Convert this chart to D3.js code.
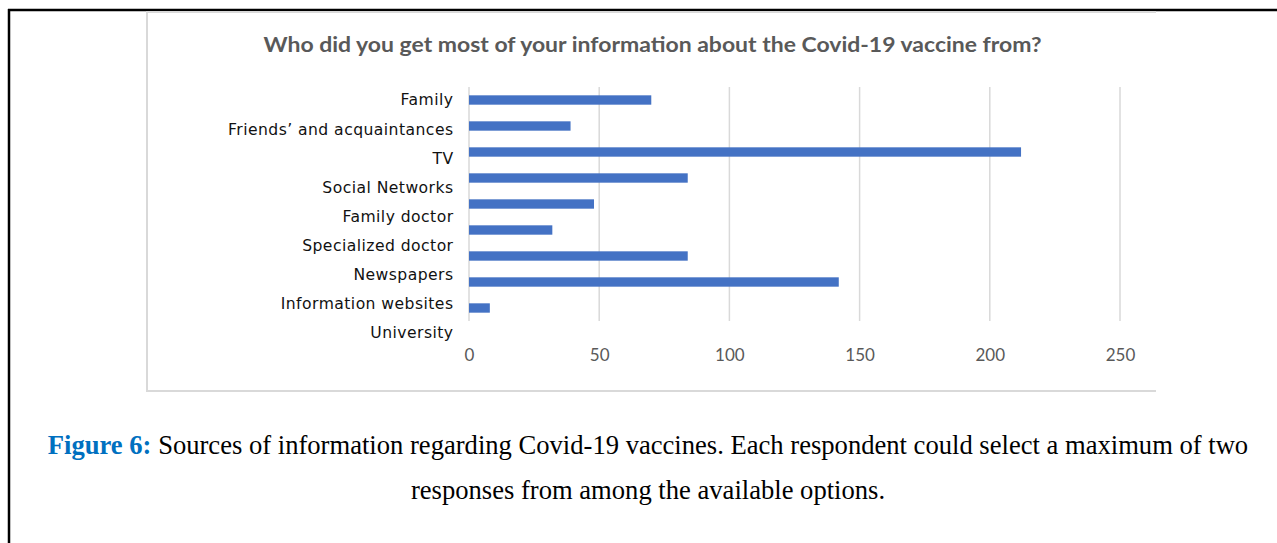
<!DOCTYPE html>
<html>
<head>
<meta charset="utf-8">
<script src="https://cdn.jsdelivr.net/npm/d3@7"></script>
<style>
  html, body { margin: 0; padding: 0; background: #fff; }
  svg { display: block; }
</style>
</head>
<body>
<svg id="fig" width="1277" height="543"></svg>
<script>
// Survey answers: where respondents got most of their vaccine information
const categories = [
  "Family",
  "Friends’ and acquaintances",
  "TV",
  "Social Networks",
  "Family doctor",
  "Specialized doctor",
  "Newspapers",
  "Information websites",
  "University"
];
const counts = [70, 39, 212, 84, 48, 32, 84, 142, 8];
const xTicks = [0, 50, 100, 150, 200, 250];

const chartTitle = "Who did you get most of your information about the Covid-19 vaccine from?";
const captionLead = "Figure 6:";
const captionLine1 = " Sources of information regarding Covid-19 vaccines. Each respondent could select a maximum of two";
const captionLine2 = "responses from among the available options.";

const svg = d3.select("#fig");

// page frame
svg.append("line").attr("x1", 9).attr("x2", 9).attr("y1", 9).attr("y2", 543)
  .attr("stroke", "#000").attr("stroke-width", 2.5);
svg.append("line").attr("x1", 8).attr("x2", 1277).attr("y1", 10).attr("y2", 10)
  .attr("stroke", "#000").attr("stroke-width", 2.5);

// chart area box (left, top, bottom edges)
const box = { left: 147, right: 1156, top: 12, bottom: 391 };
svg.append("path")
  .attr("d", `M${box.right},${box.top}H${box.left}V${box.bottom}H${box.right}`)
  .attr("fill", "none").attr("stroke", "#d9d9d9").attr("stroke-width", 2);

// title
svg.append("text")
  .attr("x", (box.left + box.right) / 2 + 1).attr("y", 52)
  .attr("text-anchor", "middle")
  .attr("font-family", "Lato, 'Open Sans', sans-serif")
  .attr("font-weight", "bold").attr("font-size", 21)
  .attr("textLength", 778).attr("lengthAdjust", "spacingAndGlyphs")
  .attr("fill", "#595959")
  .text(chartTitle);

// scales
const plot = { left: 469, right: 1120, top: 87, bottom: 321 };
const x = d3.scaleLinear().domain([0, 250]).range([plot.left, plot.right]);
const yBar = d3.scaleBand().domain(categories).range([plot.top, plot.bottom]).paddingInner(0.64).paddingOuter(0.32);
const yLabel = d3.scalePoint().domain(categories).range([100, 333]);

// vertical gridlines
svg.append("g").selectAll("line").data(xTicks).join("line")
  .attr("x1", d => x(d)).attr("x2", d => x(d))
  .attr("y1", plot.top).attr("y2", plot.bottom)
  .attr("stroke", "#d9d9d9").attr("stroke-width", 1.5);

// bars
svg.append("g").selectAll("rect").data(categories).join("rect")
  .attr("x", x(0))
  .attr("y", d => yBar(d))
  .attr("width", (d, i) => x(counts[i]) - x(0))
  .attr("height", yBar.bandwidth())
  .attr("fill", "#4472c4");

// category labels
svg.append("g").selectAll("text").data(categories).join("text")
  .attr("x", 453.5).attr("y", d => yLabel(d))
  .attr("dy", "0.35em")
  .attr("text-anchor", "end")
  .attr("font-family", "'DejaVu Sans', sans-serif")
  .attr("font-size", 15.6)
  .attr("letter-spacing", 0.45)
  .attr("fill", "#111")
  .text(d => d);

// x axis tick labels
const xAxis = d3.axisBottom(x).tickValues(xTicks).tickSize(0).tickPadding(0);
const gx = svg.append("g").attr("transform", `translate(0,${plot.bottom + 40})`).call(xAxis);
gx.select(".domain").remove();
gx.selectAll("text")
  .attr("font-family", "Lato, 'Open Sans', sans-serif")
  .attr("font-size", 17)
  .attr("fill", "#595959")
  .attr("dy", "0");

// caption
const cap = svg.append("text")
  .attr("x", 648).attr("y", 454)
  .attr("text-anchor", "middle")
  .attr("font-family", "'Liberation Serif', 'Times New Roman', serif")
  .attr("font-size", 26.6)
  .attr("fill", "#000");
cap.append("tspan").attr("font-weight", "bold").attr("fill", "#0070c0").text(captionLead);
cap.append("tspan").text(captionLine1);

svg.append("text")
  .attr("x", 648).attr("y", 499)
  .attr("text-anchor", "middle")
  .attr("font-family", "'Liberation Serif', 'Times New Roman', serif")
  .attr("font-size", 26.6)
  .attr("fill", "#000")
  .text(captionLine2);
</script>
</body>
</html>
